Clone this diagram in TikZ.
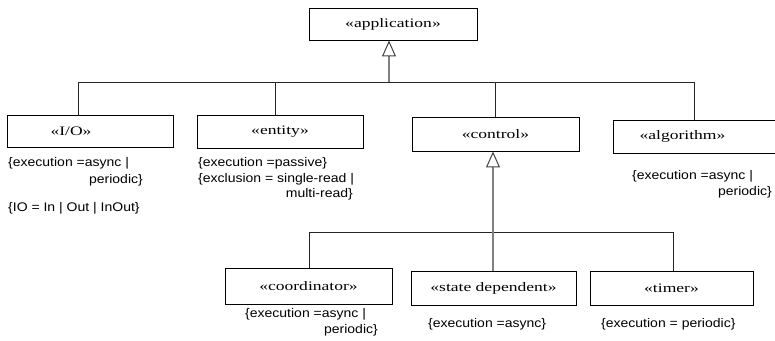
\documentclass[tikz,border=0pt]{standalone}
\usepackage{fontspec}
\usetikzlibrary{arrows.meta}
\newfontfamily\boxfont[FakeStretch=1.35]{Liberation Serif}
\newfontfamily\attrfont[FakeStretch=1.12]{Liberation Sans}
\tikzset{
  cls/.style={draw=black, line width=0.9pt, fill=white, inner sep=0pt,
              minimum width=#1, font=\boxfont\fontsize{13}{15}\selectfont},
  cls/.default=166pt,
  attr/.style={inner sep=0pt, font=\attrfont\fontsize{12.5}{15}\selectfont},
  link/.style={draw=black!85, line width=0.9pt},
  gen/.style={draw=black!50, line width=1.7pt,
              -{Triangle[open, length=16pt, width=14pt, line width=1pt, color=black!75, fill=white]}},
}
\begin{document}
\begin{tikzpicture}[x=1pt, y=-1pt]
\useasboundingbox (0,0) rectangle (775,340);

% classes, top level
\node[cls=168pt, minimum height=32pt] (app) at (393,24) {«application»};
\node[cls, minimum height=32pt, label={[xshift=-19pt, font=\boxfont\fontsize{13}{15}\selectfont]center:«I/O»}] (io) at (90,131) {};
\node[cls, minimum height=33pt] (ent) at (280,131.5) {«entity»};
\node[cls=167pt, minimum height=34pt] (ctl) at (495.5,134) {«control»};
\node[cls=167pt, minimum height=33pt, label={[xshift=-14pt, font=\boxfont\fontsize{13}{15}\selectfont]center:«algorithm»}] (alg) at (696.5,136.5) {};

% classes, under control
\node[cls=167pt, minimum height=36pt] (crd) at (308.5,286) {«coordinator»};
\node[cls=165pt, minimum height=34pt] (sd) at (493.5,288) {«state dependent»};
\node[cls=163pt, minimum height=34pt] (tmr) at (671.5,288) {«timer»};

% junction points on the two buses
\coordinate (t0) at (389,82);
\coordinate (t1) at (78,82);
\coordinate (t2) at (275,82);
\coordinate (t3) at (495,82);
\coordinate (t4) at (694,82);
\coordinate (u0) at (493,232);
\coordinate (u1) at (309,232);
\coordinate (u3) at (673,232);

% generalization to application
\draw[link] (t1) -- (t4);
\draw[link] (t1) -- (t1 |- io.north);
\draw[link] (t2) -- (t2 |- ent.north);
\draw[link] (t3) -- (t3 |- ctl.north);
\draw[link] (t4) -- (t4 |- alg.north);
\draw[gen] (t0) -- (t0 |- app.south);

% generalization to control
\draw[link] (u1) -- (u3);
\draw[link] (u1) -- (u1 |- crd.north);
\draw[link] (u3) -- (u3 |- tmr.north);
\draw[gen] (u0 |- sd.north) -- (u0 |- ctl.south);

% tagged values
\node[attr, anchor=base west] (ioa) at (8,166) {\{execution =async |};
\node[attr, anchor=base east] (iob) at (143,183) {periodic\}};
\node[attr, anchor=base west] (ioc) at (8,211) {\{IO = In | Out | InOut\}};

\node[attr, anchor=base west] (ena) at (198,166.5) {\{execution =passive\}};
\node[attr, anchor=base west] (enb) at (198,182) {\{exclusion = single-read |};
\node[attr, anchor=base east] (enc) at (353,197) {multi-read\}};

\node[attr, anchor=base west] (ala) at (632,179) {\{execution =async |};
\node[attr, anchor=base east] (alb) at (772,195) {periodic\}};

\node[attr, anchor=base west] (cra) at (245,317) {\{execution =async |};
\node[attr, anchor=base east] (crb) at (378,333) {periodic\}};

\node[attr, anchor=base west] (sda) at (428,327) {\{execution =async\}};
\node[attr, anchor=base west] (tma) at (601,327) {\{execution = periodic\}};
\end{tikzpicture}
\end{document}
